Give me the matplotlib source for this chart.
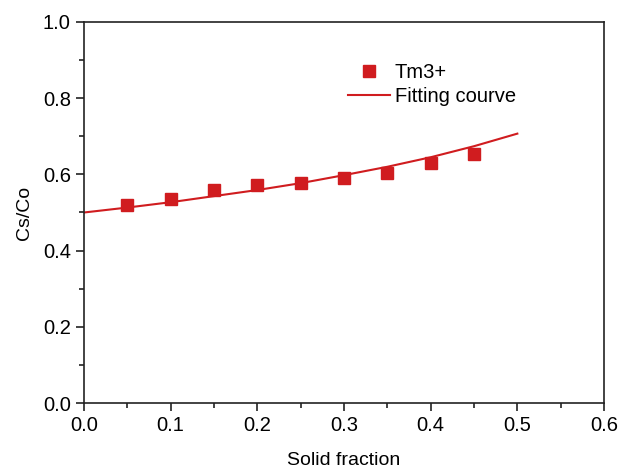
import matplotlib
matplotlib.use("Agg")
import matplotlib.pyplot as plt
from matplotlib.ticker import MultipleLocator

plt.rcParams['font.family'] = ['Liberation Sans', 'DejaVu Sans']

# measured points
solid_fraction = [0.05, 0.10, 0.15, 0.20, 0.25, 0.30, 0.35, 0.40, 0.45]
cs_co = [0.520, 0.535, 0.560, 0.571, 0.577, 0.590, 0.603, 0.631, 0.653]

# fitting curve
fit_x = [0.00, 0.05, 0.10, 0.15, 0.20, 0.25, 0.30, 0.35, 0.40, 0.45, 0.50]
fit_y = [0.500, 0.513, 0.527, 0.543, 0.559, 0.577, 0.598, 0.620, 0.645, 0.674, 0.707]

red = '#d01c1f'

fig = plt.figure(figsize=(6.2, 4.69), dpi=100)
ax = fig.add_axes([84/620, 1 - 403/469, 520/620, 381/469])

ax.plot(solid_fraction, cs_co, 's', color=red, markersize=9, label='Tm3+')
ax.plot(fit_x, fit_y, '-', color=red, linewidth=1.5, label='Fitting courve')

ax.set_xlim(0, 0.6)
ax.set_ylim(0, 1.0)
ax.xaxis.set_major_locator(MultipleLocator(0.1))
ax.xaxis.set_minor_locator(MultipleLocator(0.05))
ax.yaxis.set_major_locator(MultipleLocator(0.2))
ax.yaxis.set_minor_locator(MultipleLocator(0.1))
ax.tick_params(which='both', direction='out', labelsize=14.5, width=1.2, color='#222222')
ax.tick_params(which='major', length=6)
ax.tick_params(which='minor', length=3.5)
for s in ax.spines.values():
    s.set_linewidth(1.2)
    s.set_color('#222222')

ax.set_xlabel('Solid fraction', fontsize=14, labelpad=12)
ax.set_ylabel('Cs/Co', fontsize=14, labelpad=7)

ax.legend(loc='upper left', bbox_to_anchor=(0.472, 0.94), frameon=False,
          fontsize=14.5, handlelength=2.1, handletextpad=0.25, labelspacing=0.25)

fig.savefig('out.png', dpi=100)
